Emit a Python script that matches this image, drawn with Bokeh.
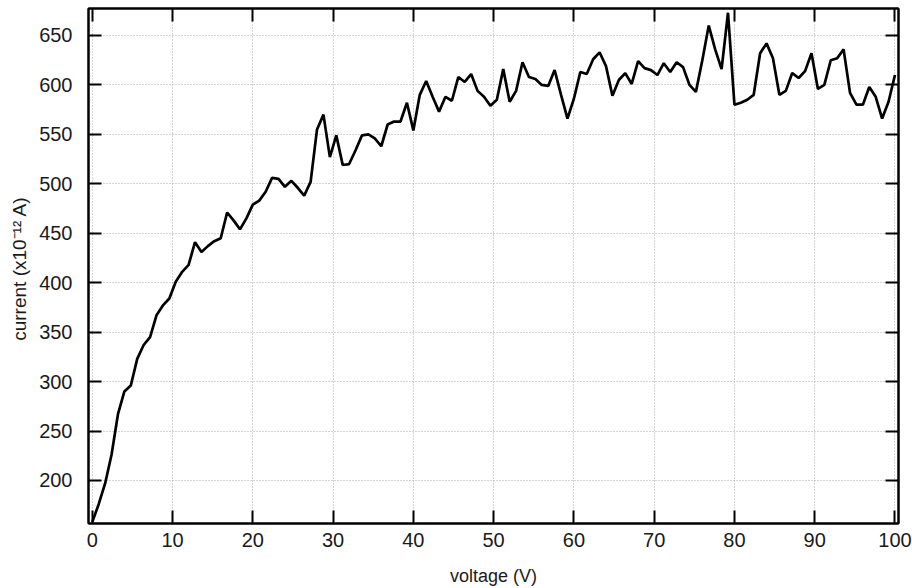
from bokeh.plotting import figure
from bokeh.models import Range1d, LinearAxis, FixedTicker, CustomLabelingPolicy
from bokeh.embed import file_html
from bokeh.resources import INLINE

voltage = [
    0.0, 0.8, 1.6, 2.4, 3.2, 4.0, 4.8, 5.6, 6.4, 7.2,
    8.0, 8.8, 9.6, 10.4, 11.2, 12.0, 12.8, 13.6, 14.4, 15.2,
    16.0, 16.8, 17.6, 18.4, 19.2, 20.0, 20.8, 21.6, 22.4, 23.2,
    24.0, 24.8, 25.6, 26.4, 27.2, 28.0, 28.8, 29.6, 30.4, 31.2,
    32.0, 32.8, 33.6, 34.4, 35.2, 36.0, 36.8, 37.6, 38.4, 39.2,
    40.0, 40.8, 41.6, 42.4, 43.2, 44.0, 44.8, 45.6, 46.4, 47.2,
    48.0, 48.8, 49.6, 50.4, 51.2, 52.0, 52.8, 53.6, 54.4, 55.2,
    56.0, 56.8, 57.6, 58.4, 59.2, 60.0, 60.8, 61.6, 62.4, 63.2,
    64.0, 64.8, 65.6, 66.4, 67.2, 68.0, 68.8, 69.6, 70.4, 71.2,
    72.0, 72.8, 73.6, 74.4, 75.2, 76.0, 76.8, 77.6, 78.4, 79.2,
    80.0, 80.8, 81.6, 82.4, 83.2, 84.0, 84.8, 85.6, 86.4, 87.2,
    88.0, 88.8, 89.6, 90.4, 91.2, 92.0, 92.8, 93.6, 94.4, 95.2,
    96.0, 96.8, 97.6, 98.4, 99.2, 100.0,
]

current = [
    158, 176, 197, 226, 267, 290, 296, 323, 337, 345,
    367, 377, 384, 401, 411, 418, 441, 431, 437, 442,
    445, 471, 463, 454, 465, 479, 483, 492, 506, 505,
    497, 503, 496, 488, 502, 555, 570, 527, 549, 519,
    520, 534, 549, 550, 546, 538, 560, 563, 563, 582,
    554, 590, 604, 588, 573, 588, 584, 608, 603, 611,
    594, 588, 579, 585, 616, 583, 594, 623, 608, 606,
    600, 599, 615, 590, 566, 586, 613, 611, 626, 633,
    619, 589, 605, 612, 601, 624, 617, 615, 610, 622,
    613, 623, 618, 600, 593, 625, 660, 636, 616, 673,
    580, 582, 585, 590, 632, 642, 627, 590, 594, 612,
    607, 614, 632, 596, 600, 625, 627, 636, 592, 580,
    580, 598, 588, 566, 583, 610,
]

x_ticks = [0, 10, 20, 30, 40, 50, 60, 70, 80, 90, 100]
y_ticks = [200, 250, 300, 350, 400, 450, 500, 550, 600, 650]

FONT = "Liberation Sans"

p = figure(
    width=912, height=588,
    x_range=Range1d(-0.47, 100.44), y_range=Range1d(156.5, 677.3),
    output_backend="svg", toolbar_location=None,
    min_border_left=88, min_border_right=14, min_border_top=8, min_border_bottom=65,
)
p.background_fill_color = "white"
p.border_fill_color = "white"
p.outline_line_color = "black"
p.outline_line_width = 2

p.line(voltage, current, line_color="black", line_width=2.7)

xt = FixedTicker(ticks=x_ticks)
yt = FixedTicker(ticks=y_ticks)

no_labels = CustomLabelingPolicy(code="""
    for (const i of Array.from(indices)) {
        if (typeof indices.unset === "function") { indices.unset(i) } else { indices.set(i, false) }
    }
    return indices
""")

def style_axis(ax, show_labels):
    ax.major_tick_in = 13
    ax.major_tick_out = 0
    ax.minor_tick_in = 0
    ax.minor_tick_out = 0
    ax.axis_line_color = "black"
    ax.axis_line_width = 2
    ax.major_tick_line_color = "black"
    ax.major_tick_line_width = 2
    ax.major_label_text_font = FONT
    ax.major_label_text_color = "#1a1a1a"
    if show_labels:
        ax.major_label_text_font_size = "20px"
    else:
        ax.major_label_text_font_size = "0px"
        ax.major_label_standoff = 0
        ax.major_label_policy = no_labels

p.xaxis.ticker = xt
p.yaxis.ticker = yt
for ax in p.xaxis:
    style_axis(ax, True)
    ax.major_label_standoff = 9
    ax.axis_label = "voltage (V)"
    ax.axis_label_standoff = 16
    ax.axis_label_text_font_size = "18px"
for ax in p.yaxis:
    style_axis(ax, True)
    ax.major_label_standoff = 16
    ax.axis_label = "current (x10\u207b\u00b9\u00b2  A)"
    ax.axis_label_standoff = 6
    ax.axis_label_text_font_size = "19px"

for ax in list(p.xaxis) + list(p.yaxis):
    ax.axis_label_text_font = FONT
    ax.axis_label_text_font_style = "normal"
    ax.axis_label_text_color = "#1a1a1a"

top = LinearAxis(ticker=FixedTicker(ticks=x_ticks))
style_axis(top, False)
p.add_layout(top, "above")
right = LinearAxis(ticker=FixedTicker(ticks=y_ticks))
style_axis(right, False)
p.add_layout(right, "right")

p.xgrid.ticker = xt
p.ygrid.ticker = yt
for g in (p.xgrid, p.ygrid):
    g.grid_line_color = "#a8a8a8"
    g.grid_line_width = 1
    g.grid_line_dash = "1 2"

open("out.html", "w").write(file_html(p, INLINE))
